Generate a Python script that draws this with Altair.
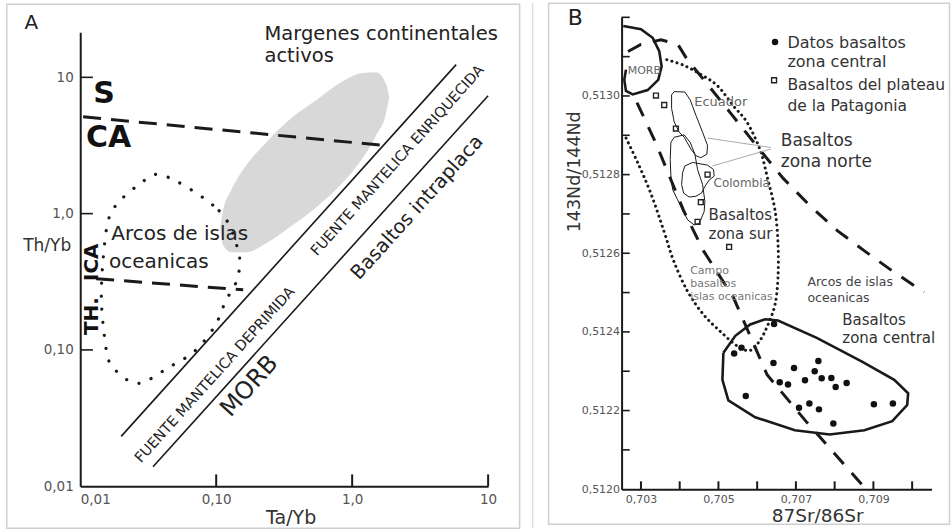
import altair as alt
import pandas as pd

FONT = "DejaVu Sans"
INK = "#1a1a1a"

# ---------------- Panel A : Th/Yb vs Ta/Yb (log-log) ----------------
a_label_values = [0.01, 0.1, 1, 10]
a_tick_values = [0.1, 1, 10]

# grey field "Margenes continentales activos" (upper / lower boundary)
a_field_x = [0.107, 0.1125, 0.1288, 0.1663, 0.2334, 0.3558, 0.543, 0.830, 1.164, 1.50, 1.78, 1.87]
a_field_top = [0.78, 1.06, 1.48, 2.26, 3.33, 5.0, 6.78, 9.19, 10.7, 10.9, 8.89, 7.13]
a_field_bot = [0.78, 0.585, 0.52, 0.52, 0.605, 0.807, 1.11, 1.64, 2.46, 3.75, 5.53, 7.13]

a_sca_x = [0.0105, 1.63]
a_sca_y = [5.13, 3.18]
a_thica_x = [0.0131, 0.158]
a_thica_y = [0.333, 0.276]

a_arc_x = [0.0407, 0.105, 0.145, 0.145, 0.129, 0.115, 0.0967, 0.0689, 0.0444, 0.0296,
           0.0237, 0.019, 0.0163, 0.015, 0.0143, 0.0148, 0.0161, 0.019, 0.0267]
a_arc_y = [1.91, 1.05, 0.538, 0.345, 0.272, 0.217, 0.147, 0.0973, 0.074, 0.0582,
           0.0582, 0.068, 0.082, 0.130, 0.245, 0.485, 0.897, 1.2, 1.61]

a_enr_x = [0.020, 5.82]
a_enr_y = [0.0232, 12.4]
a_dep_x = [0.0343, 10.0]
a_dep_y = [0.0139, 7.33]

a_left_text = ["A", "Margenes continentales", "activos", "Arcos de islas", "oceanicas"]
a_left_x = [0.00389, 0.2265, 0.2265, 0.0169, 0.0163]
a_left_y = [25.0, 20.7, 14.3, 0.714, 0.44]
a_left_size = [20, 19.5, 19.5, 20, 20]

a_rot_text = ["FUENTE MANTELICA ENRIQUECIDA", "FUENTE MANTELICA DEPRIMIDA", "Basaltos intraplaca", "MORB"]
a_rot_x = [2.17, 0.0984, 3.0, 0.176]
a_rot_y = [2.44, 0.0652, 1.11, 0.054]
a_rot_size = [14.5, 14.5, 19.5, 24]

a_bold_text = ["S", "CA", "ICA", "TH."]
a_bold_x = [0.015, 0.0162, 0.01216, 0.01216]
a_bold_y = [7.53, 3.57, 0.44, 0.177]
a_bold_size = [30, 30, 20, 20]
a_bold_angle = [0, 0, 270, 270]

# ---------------- Panel B : 143Nd/144Nd vs 87Sr/86Sr ----------------
b_x_labels = [0.703, 0.705, 0.707, 0.709]
b_y_labels = [0.5120, 0.5122, 0.5124, 0.5126, 0.5128, 0.5130]
b_x_ticks = [0.703, 0.704, 0.705, 0.706, 0.707, 0.708, 0.709, 0.710]
b_y_ticks = [0.5121, 0.5122, 0.5123, 0.5124, 0.5125, 0.5126, 0.5127, 0.5128, 0.5129, 0.5130, 0.5131, 0.5132]

b_morb_x = [0.702544, 0.703000, 0.703302, 0.703472, 0.703534, 0.703446, 0.703173, 0.702786, 0.702613, 0.702570, 0.702613]
b_morb_y = [0.513178, 0.513170, 0.513148, 0.513114, 0.513075, 0.513041, 0.513015, 0.513004, 0.513013, 0.513041, 0.513067]

b_dash1_x = [0.702665, 0.703000, 0.703515, 0.703954, 0.704205, 0.704615, 0.705308, 0.706077, 0.706667, 0.707359, 0.708077, 0.708769, 0.709487, 0.710308]
b_dash1_y = [0.513113, 0.513131, 0.513143, 0.513131, 0.513091, 0.513042, 0.512957, 0.512862, 0.512791, 0.512721, 0.512657, 0.512606, 0.512555, 0.512501]

b_dash2_x = [0.702897, 0.703385, 0.704103, 0.704615, 0.705385, 0.706256, 0.707282, 0.708720]
b_dash2_y = [0.512983, 0.512880, 0.512708, 0.512606, 0.512488, 0.512291, 0.512170, 0.512010]

b_dot_x = [0.702615, 0.702923, 0.703256, 0.703590, 0.703846, 0.704205, 0.704615, 0.705051, 0.705487, 0.705820, 0.706077, 0.706282,
           0.706462, 0.706538, 0.706538, 0.706462, 0.706282, 0.706077, 0.705744, 0.705385, 0.704974, 0.704538, 0.704103, 0.703641]
b_dot_y = [0.512893, 0.512829, 0.512752, 0.512657, 0.512580, 0.512503, 0.512444, 0.512401, 0.512364, 0.512353, 0.512379, 0.512419,
           0.512470, 0.512539, 0.512624, 0.512708, 0.512785, 0.512862, 0.512932, 0.512975, 0.513026, 0.513055, 0.513078, 0.513093]

b_cen_x = [0.705128, 0.705103, 0.705256, 0.705949, 0.706974, 0.707872, 0.708769, 0.709487, 0.709872, 0.709897, 0.709538,
           0.708718, 0.707538, 0.706538, 0.706205, 0.705820, 0.705436, 0.705128]
b_cen_y = [0.512347, 0.512278, 0.512226, 0.512183, 0.512150, 0.512139, 0.512150, 0.512173, 0.512214, 0.512244, 0.512278,
           0.512324, 0.512385, 0.512429, 0.512432, 0.512419, 0.512390, 0.512347]

b_ecu_x = [0.703791, 0.703859, 0.704134, 0.704271, 0.704418, 0.704590, 0.704719, 0.704701, 0.704546, 0.704418, 0.704289, 0.704116, 0.703987, 0.703859, 0.703791, 0.703791]
b_ecu_y = [0.513003, 0.513011, 0.513010, 0.512990, 0.512951, 0.512908, 0.512874, 0.512852, 0.512843, 0.512848, 0.512865, 0.512895, 0.512908, 0.512934, 0.512968, 0.513003]

b_sur_x = [0.703773, 0.703859, 0.704116, 0.704271, 0.704392, 0.704461, 0.704590, 0.704650, 0.704632, 0.704503, 0.704374, 0.704204, 0.704075, 0.703946, 0.703817, 0.703773, 0.703755, 0.703773]
b_sur_y = [0.512882, 0.512895, 0.512901, 0.512882, 0.512852, 0.512813, 0.512775, 0.512732, 0.512706, 0.512676, 0.512672, 0.512685, 0.512710, 0.512736, 0.512762, 0.512796, 0.512839, 0.512882]

b_col_x = [0.704134, 0.704332, 0.704719, 0.704874, 0.704889, 0.704760, 0.704650, 0.704564, 0.704418, 0.704245, 0.704101, 0.704049, 0.704075, 0.704134]
b_col_y = [0.512822, 0.512831, 0.512824, 0.512813, 0.512796, 0.512786, 0.512770, 0.512753, 0.512745, 0.512743, 0.512753, 0.512775, 0.512805, 0.512822]

b_lead_x1 = [0.706351, 0.706351]
b_lead_y1 = [0.512869, 0.512865]
b_lead_x2 = [0.704719, 0.704848]
b_lead_y2 = [0.512893, 0.512822]

b_central_x = [0.705405, 0.705595, 0.706436, 0.705706, 0.706420, 0.706582, 0.706796, 0.706951, 0.707235, 0.707485, 0.707580,
               0.707665, 0.707915, 0.708026, 0.708309, 0.707080, 0.707348, 0.707595, 0.707966, 0.709013, 0.709503]
b_central_y = [0.512345, 0.512360, 0.512420, 0.512237, 0.512321, 0.512272, 0.512266, 0.512308, 0.512277, 0.512300, 0.512326,
               0.512282, 0.512283, 0.512260, 0.512270, 0.512207, 0.512218, 0.512203, 0.512167, 0.512216, 0.512218]

b_plateau_x = [0.703387, 0.703600, 0.703902, 0.704719, 0.704546, 0.704461, 0.705276]
b_plateau_y = [0.513001, 0.512977, 0.512917, 0.512800, 0.512730, 0.512680, 0.512616]

b_legend_dot = ([0.706461], [0.513137])
b_legend_sq = ([0.706436], [0.513040])

b_text = ["B", "MORB", "Ecuador", "Basaltos", "zona norte", "Colombia", "Basaltos", "zona sur",
          "Campo", "basaltos", "islas oceanicas", "Arcos de islas", "oceanicas", "Basaltos", "zona central",
          "Datos basaltos", "zona central", "Basaltos del plateau", "de la Patagonia"]
b_text_x = [0.701111, 0.702657, 0.704374, 0.706608, 0.706608, 0.704874, 0.704745, 0.704745,
            0.704271, 0.704271, 0.704271, 0.707296, 0.707296, 0.708198, 0.708198,
            0.706781, 0.706781, 0.706781, 0.706781]
b_text_y = [0.513198, 0.513063, 0.512985, 0.512886, 0.512832, 0.512779, 0.512698, 0.512650,
            0.512556, 0.512523, 0.512489, 0.512528, 0.512487, 0.512429, 0.512384,
            0.513134, 0.513086, 0.513027, 0.512974]
b_text_size = [22, 11, 13, 17, 17, 12, 15, 15, 11, 11, 11, 12.5, 12.5, 15, 15, 16, 16, 15.5, 15.5]
b_text_color = ["#222", "#666", "#666", "#333", "#333", "#666", "#333", "#333", "#777", "#777", "#777",
                "#444", "#444", "#333", "#333", "#333", "#333", "#333", "#333"]


# ---------------- helpers ----------------
def path(xs, ys):
    return pd.DataFrame({"x": xs, "y": ys, "i": list(range(len(xs)))})


def pos(xscale, yscale, xaxis, yaxis, xf="x", yf="y"):
    return dict(x=alt.X(f"{xf}:Q", scale=xscale, axis=xaxis),
                y=alt.Y(f"{yf}:Q", scale=yscale, axis=yaxis))


one = pd.DataFrame({"k": [0]})

# ---------------- Panel A chart ----------------
ax_sc = alt.Scale(type="log", domain=[0.01, 10], nice=False)
ay_sc = alt.Scale(type="log", domain=[0.01, 21.4], range=[469, 15], nice=False)

lab_expr_a = ("datum.value < 0.05 ? '0,01' : datum.value < 0.5 ? '0,10' : "
              "datum.value < 5 ? '1,0' : '10'")
ax_axis = alt.Axis(values=a_label_values, labelExpr=lab_expr_a, ticks=False, grid=False,
                   domainColor=INK, domainWidth=2, offset=-3,
                   labelFont=FONT, labelFontSize=13.5, labelColor="#555", labelPadding=6,
                   labelAlign={"condition": {"test": "datum.value < 0.05", "value": "left"}, "value": "center"},
                   title="Ta/Yb", titleFont=FONT, titleFontSize=19, titleFontWeight="normal",
                   titleColor="#333", titleX=210.5, titleY=31, titleAlign="center", titleBaseline="middle")
ay_axis = alt.Axis(values=a_label_values, labelExpr=lab_expr_a, ticks=False, grid=False,
                   domainColor=INK, domainWidth=2,
                   labelFont=FONT, labelFontSize=13.5, labelColor="#555", labelPadding=7,
                   title="Th/Yb", titleFont=FONT, titleFontSize=17, titleFontWeight="normal",
                   titleColor="#333", titleAngle=0, titleX=-33.5, titleY=228,
                   titleAlign="center", titleBaseline="middle")

PA = lambda **kw: pos(ax_sc, ay_sc, ax_axis, ay_axis, **kw)

a_frame = alt.Chart(one).mark_rect(fill="transparent", stroke="#cfcfcf", strokeWidth=1.5).encode(
    x=alt.value(-73.5), x2=alt.value(439.5), y=alt.value(-13), y2=alt.value(511))

a_field = alt.Chart(pd.DataFrame({"x": a_field_x, "top": a_field_top, "bot": a_field_bot})).mark_area(
    color="#d8d8d8", interpolate="monotone").encode(
    **PA(yf="top"), y2="bot:Q")

a_sca = alt.Chart(path(a_sca_x, a_sca_y)).mark_line(color=INK, strokeWidth=3, strokeDash=[18, 10]).encode(**PA(), order="i:Q")
a_thica = alt.Chart(path(a_thica_x, a_thica_y)).mark_line(color=INK, strokeWidth=3, strokeDash=[18, 10]).encode(**PA(), order="i:Q")
a_arc = alt.Chart(path(a_arc_x, a_arc_y)).mark_line(color=INK, strokeWidth=3.2, strokeDash=[0.1, 13], strokeCap="round",
                                                    interpolate="cardinal-closed").encode(**PA(), order="i:Q")
a_enr = alt.Chart(path(a_enr_x, a_enr_y)).mark_line(color=INK, strokeWidth=1.6).encode(**PA(), order="i:Q")
a_dep = alt.Chart(path(a_dep_x, a_dep_y)).mark_line(color=INK, strokeWidth=1.6).encode(**PA(), order="i:Q")

a_xt = alt.Chart(pd.DataFrame({"x": a_tick_values, "y": [0.01] * 3, "y2": [0.0122] * 3})).mark_rule(
    color=INK, strokeWidth=2).encode(**PA(), y2="y2:Q")
a_yt = alt.Chart(pd.DataFrame({"y": a_tick_values, "x": [0.01] * 3, "x2": [0.0124] * 3})).mark_rule(
    color=INK, strokeWidth=1.6).encode(**PA(), x2="x2:Q")

a_t1 = alt.Chart(pd.DataFrame({"x": a_left_x, "y": a_left_y, "t": a_left_text, "s": a_left_size})).mark_text(
    font=FONT, align="left", baseline="middle", color="#222").encode(
    **PA(), text="t:N", size=alt.Size("s:Q", scale=None))
a_t2 = alt.Chart(pd.DataFrame({"x": a_rot_x, "y": a_rot_y, "t": a_rot_text, "s": a_rot_size})).mark_text(
    font=FONT, align="center", baseline="middle", color="#222", angle=312).encode(
    **PA(), text="t:N", size=alt.Size("s:Q", scale=None))
a_t3 = alt.Chart(pd.DataFrame({"x": a_bold_x, "y": a_bold_y, "t": a_bold_text, "s": a_bold_size,
                               "a": a_bold_angle})).mark_text(
    font=FONT, align="center", baseline="middle", color="#111", fontWeight="bold").encode(
    **PA(), text="t:N", size=alt.Size("s:Q", scale=None), angle=alt.Angle("a:Q", scale=None))

panel_a = alt.layer(a_frame, a_field, a_sca, a_thica, a_arc, a_enr, a_dep, a_xt, a_yt,
                    a_t1, a_t2, a_t3).properties(width=408, height=472)

# ---------------- Panel B chart ----------------
bx_sc = alt.Scale(domain=[0.7025, 0.7105], nice=False, zero=False)
by_sc = alt.Scale(domain=[0.5120, 0.5132], nice=False, zero=False)

bx_axis = alt.Axis(values=b_x_labels, labelExpr="replace(format(datum.value, '.3f'), '.', ',')",
                   ticks=False, grid=False, domainColor=INK, domainWidth=2,
                   labelFont=FONT, labelFontSize=11, labelColor="#555", labelPadding=4,
                   title="87Sr/86Sr", titleFont=FONT, titleFontSize=18.5, titleFontWeight="normal",
                   titleColor="#333", titleX=195.7, titleY=26, titleAlign="center", titleBaseline="middle")
by_axis = alt.Axis(values=b_y_labels, labelExpr="replace(format(datum.value, '.4f'), '.', ',')",
                   ticks=False, grid=False, domainColor=INK, domainWidth=2,
                   labelFont=FONT, labelFontSize=11, labelColor="#555", labelPadding=2,
                   title="143Nd/144Nd", titleFont=FONT, titleFontSize=17.5, titleFontWeight="normal",
                   titleColor="#333", titleAngle=270, titleX=-47, titleY=154,
                   titleAlign="center", titleBaseline="middle")

PB = lambda **kw: pos(bx_sc, by_sc, bx_axis, by_axis, **kw)

b_frame = alt.Chart(one).mark_rect(fill="transparent", stroke="#cfcfcf", strokeWidth=1.5).encode(
    x=alt.value(-73), x2=alt.value(328), y=alt.value(-14), y2=alt.value(507))
b_sep = alt.Chart(one).mark_rule(stroke="#dcdcdc", strokeWidth=1.5).encode(
    x=alt.value(-89), y=alt.value(-14), y2=alt.value(511))


def b_line(xs, ys, **mark):
    return alt.Chart(path(xs, ys)).mark_line(color=INK, **mark).encode(**PB(), order="i:Q")


b_morb = b_line(b_morb_x, b_morb_y, strokeWidth=2.6)
b_d1 = b_line(b_dash1_x, b_dash1_y, strokeWidth=3, strokeDash=[15, 12])
b_d2 = b_line(b_dash2_x, b_dash2_y, strokeWidth=3, strokeDash=[15, 12])
b_dot = b_line(b_dot_x, b_dot_y, strokeWidth=3, strokeDash=[0.1, 5.2], strokeCap="round", interpolate="cardinal")
b_cen = b_line(b_cen_x, b_cen_y, strokeWidth=2.6)
b_ecu = b_line(b_ecu_x, b_ecu_y, strokeWidth=1)
b_sur = b_line(b_sur_x, b_sur_y, strokeWidth=1)
b_col = b_line(b_col_x, b_col_y, strokeWidth=1)

b_lead = alt.Chart(pd.DataFrame({"x": b_lead_x1, "y": b_lead_y1, "x2": b_lead_x2, "y2": b_lead_y2})).mark_rule(
    color="#aaa", strokeWidth=1).encode(**PB(), x2="x2:Q", y2="y2:Q")

b_xt = alt.Chart(pd.DataFrame({"x": b_x_ticks, "y": [0.5120] * 8, "y2": [0.51202] * 8})).mark_rule(
    color=INK, strokeWidth=2).encode(**PB(), y2="y2:Q")
b_yt = alt.Chart(pd.DataFrame({"y": b_y_ticks, "x": [0.7025] * 12, "x2": [0.70271] * 12})).mark_rule(
    color=INK, strokeWidth=1.6).encode(**PB(), x2="x2:Q")

b_pts = alt.Chart(pd.DataFrame({"x": b_central_x + b_legend_dot[0], "y": b_central_y + b_legend_dot[1]})).mark_point(
    shape="circle", filled=True, size=42, color="#111", opacity=1).encode(**PB())
b_sq = alt.Chart(pd.DataFrame({"x": b_plateau_x + b_legend_sq[0], "y": b_plateau_y + b_legend_sq[1]})).mark_point(
    shape="square", filled=False, size=24, strokeWidth=1.4, color="#222", opacity=1).encode(**PB())

b_txt = alt.Chart(pd.DataFrame({"x": b_text_x, "y": b_text_y, "t": b_text, "s": b_text_size,
                                "c": b_text_color})).mark_text(
    font=FONT, align="left", baseline="middle").encode(
    **PB(), text="t:N", size=alt.Size("s:Q", scale=None), color=alt.Color("c:N", scale=None))

panel_b = alt.layer(b_sep, b_frame, b_morb, b_d1, b_d2, b_dot, b_cen, b_ecu, b_sur, b_col, b_lead,
                    b_xt, b_yt, b_pts, b_sq, b_txt).properties(width=310, height=472)

chart = alt.hconcat(panel_a, panel_b, spacing=133.5, bounds="flush").properties(
    autosize=alt.AutoSizeParams(type="pad"),
    padding={"left": 5.25, "top": 2.25, "right": 0, "bottom": 0},
    background="white",
).configure_view(strokeWidth=0)

chart.save("out.html", embed_options={"renderer": "svg", "actions": False})
